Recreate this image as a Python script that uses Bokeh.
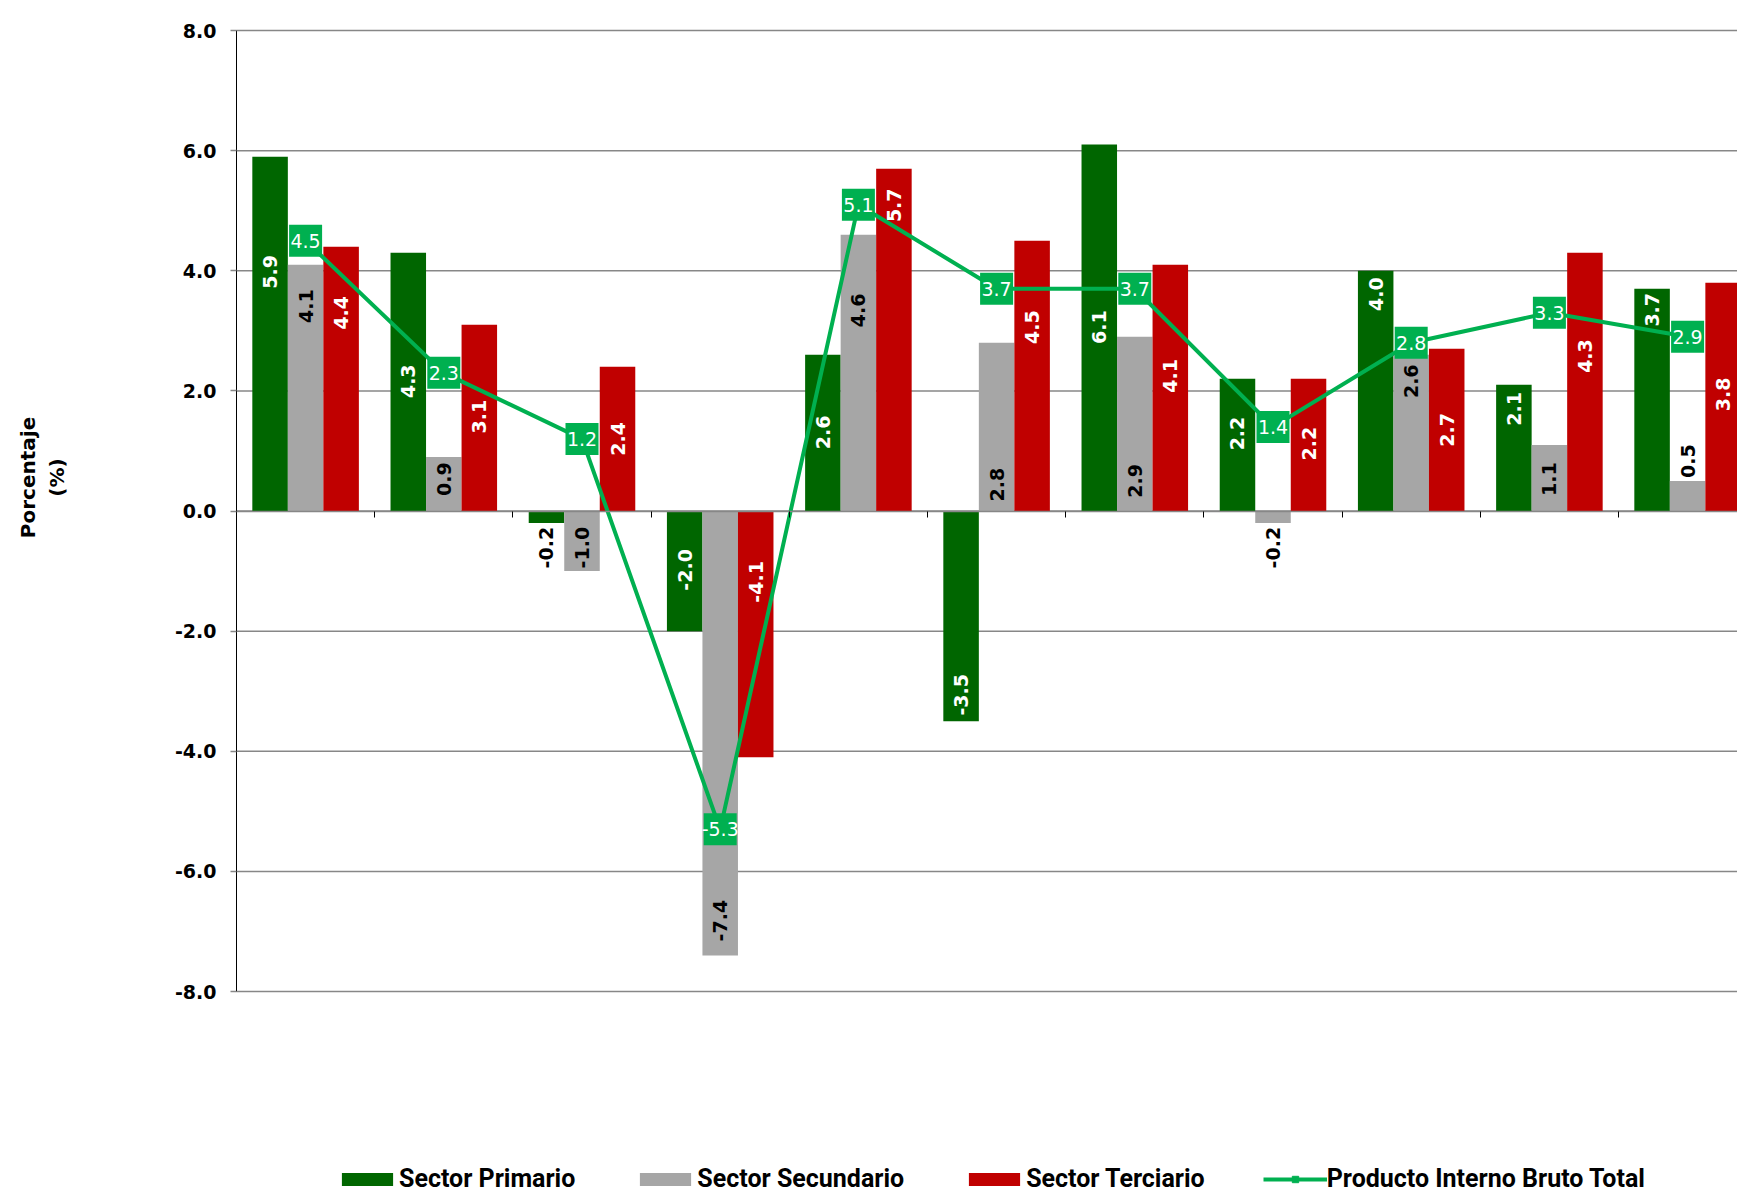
import numpy as np
from bokeh.plotting import figure
from bokeh.models import (Range1d, LinearAxis, FixedTicker, ColumnDataSource,
                          Legend, LegendItem, Label, NumeralTickFormatter)
from bokeh.core.properties import value
from bokeh.embed import file_html
from bokeh.resources import INLINE

# ---------------- data ----------------
grupos = list(range(11))
primario = [5.9, 4.3, -0.2, -2.0, 2.6, -3.5, 6.1, 2.2, 4.0, 2.1, 3.7]
secundario = [4.1, 0.9, -1.0, -7.4, 4.6, 2.8, 2.9, -0.2, 2.6, 1.1, 0.5]
terciario = [4.4, 3.1, 2.4, -4.1, 5.7, 4.5, 4.1, 2.2, 2.7, 4.3, 3.8]
pib = [4.5, 2.3, 1.2, -5.3, 5.1, 3.7, 3.7, 1.4, 2.8, 3.3, 2.9]
y_ticks = [-8, -6, -4, -2, 0, 2, 4, 6, 8]

# label anchor values (where each bar's label sits, in data units)
lbl_primario = [3.98, 2.16, -0.61, -0.98, 1.31, -3.06, 3.06, 1.29, 3.61, 1.70, 3.35]
lbl_secundario = [3.41, 0.53, -0.61, -6.82, 3.34, 0.44, 0.50, -0.61, 2.16, 0.53, 0.83]
lbl_terciario = [3.30, 1.57, 1.20, -1.18, 5.09, 3.06, 2.25, 1.12, 1.35, 2.58, 1.94]

nombres = ["Sector Primario", "Sector Secundario", "Sector Terciario",
           "Producto Interno Bruto Total"]
titulo_y = "Porcentaje\n(%)"

# ---------------- styles / layout ----------------
C_PRIM = "#006600"
C_SEC = "#A6A6A6"
C_TER = "#C00000"
C_PIB = "#00B050"
GRID = "#878787"
BAR_W = 0.257
DODGE = 0.257

W, H = 1737, 1193
AX_X = 236          # pixel of y axis
TOP_PX, BOT_PX = 30, 991   # pixels of +8 and -8
GROUP_PX = 138.2
ppu = (BOT_PX - TOP_PX) / (y_ticks[-1] - y_ticks[0])
x0 = -AX_X / GROUP_PX
x1 = (W - AX_X) / GROUP_PX
y1 = y_ticks[-1] + TOP_PX / ppu
y0 = y_ticks[0] - (H - BOT_PX) / ppu

centers = np.array(grupos) + 0.5

p = figure(width=W, height=H,
           x_range=Range1d(x0, x1), y_range=Range1d(y0, y1),
           output_backend="svg", toolbar_location=None,
           x_axis_location=None, y_axis_location=None,
           min_border=0)
p.outline_line_color = None
p.background_fill_color = "white"
p.border_fill_color = "white"
p.xgrid.visible = False
p.ygrid.visible = False

# horizontal grid lines (from the axis to the right edge)
p.segment(x0=0, x1=x1, y0=y_ticks, y1=y_ticks, line_color=GRID, line_width=1.5)

ya = LinearAxis(fixed_location=0, bounds=(y_ticks[0], y_ticks[-1]),
                ticker=FixedTicker(ticks=y_ticks),
                formatter=NumeralTickFormatter(format="0.0"))
ya.axis_line_color = "black"
ya.axis_line_width = 1
ya.major_tick_line_color = GRID
ya.major_tick_line_width = 1.5
ya.major_tick_out = 6
ya.major_tick_in = 0
ya.minor_tick_line_color = None
ya.major_label_standoff = 14
ya.major_label_text_font = "DejaVu Sans"
ya.major_label_text_font_style = "bold"
ya.major_label_text_font_size = "19px"
ya.major_label_text_color = "black"
p.add_layout(ya, "left")

xa = LinearAxis(fixed_location=0, bounds=(0, x1),
                ticker=FixedTicker(ticks=list(range(1, 11))),
                major_label_text_color=None,
                axis_line_color=GRID, axis_line_width=1.5,
                major_tick_out=6, major_tick_in=0,
                major_tick_line_color="black", major_tick_line_width=1,
                minor_tick_line_color=None)
p.add_layout(xa, "below")

# ---------------- bars ----------------
series = [(primario, lbl_primario, C_PRIM, -DODGE, "white"),
          (secundario, lbl_secundario, C_SEC, 0.0, "black"),
          (terciario, lbl_terciario, C_TER, DODGE, "white")]
bar_renderers = []
for vals, lbls, col, dx, tcol in series:
    r = p.vbar(x=centers + dx, top=vals, bottom=0, width=BAR_W,
               fill_color=col, line_color=None)
    bar_renderers.append(r)
for vals, lbls, col, dx, tcol in series:
    colors = []
    for v, l in zip(vals, lbls):
        inside = abs(l) < abs(v) and np.sign(l) == np.sign(v)
        colors.append(tcol if inside else "black")
    src = ColumnDataSource(dict(x=centers + dx, y=lbls,
                                t=[f"{v:.1f}" for v in vals], c=colors))
    p.text(x="x", y="y", text="t", source=src, angle=np.pi / 2,
           text_color="c", text_font=value("DejaVu Sans"), text_font_style="bold",
           text_font_size="19px", text_align="center", text_baseline="middle")

# ---------------- PIB line ----------------
line_r = p.line(x=centers, y=pib, line_color=C_PIB, line_width=4)
mark_r = p.scatter(x=centers, y=pib, marker="square", size=12,
                   fill_color=C_PIB, line_color=C_PIB)
p.rect(x=centers, y=pib, width=33, height=32, width_units="screen",
       height_units="screen", fill_color=C_PIB, line_color=None)
p.text(x=centers, y=pib, text=[f"{v:.1f}" for v in pib], text_color="white",
       text_font=value("DejaVu Sans"), text_font_size="19px",
       text_align="center", text_baseline="middle")

# ---------------- y title ----------------
p.add_layout(Label(x=(42 - AX_X) / GROUP_PX, y=y_ticks[-1] - (477 - TOP_PX) / ppu,
                   text=titulo_y, angle=np.pi / 2,
                   text_align="center", text_baseline="middle",
                   text_font="DejaVu Sans", text_font_style="bold",
                   text_font_size="20px", text_color="black"))

# ---------------- legend ----------------
items = [LegendItem(label=nombres[0], renderers=[bar_renderers[0]]),
         LegendItem(label=nombres[1], renderers=[bar_renderers[1]]),
         LegendItem(label=nombres[2], renderers=[bar_renderers[2]]),
         LegendItem(label=nombres[3], renderers=[line_r, mark_r])]
legend = Legend(items=items, orientation="horizontal", location=(335, 0),
                spacing=58, glyph_width=64, glyph_height=16, label_standoff=0,
                padding=0, margin=0, border_line_color=None,
                background_fill_alpha=0, label_height=22,
                label_text_font="Roboto", label_text_font_style="bold",
                label_text_font_size="25px", label_text_color="black",
                label_text_baseline="middle")
p.add_layout(legend)

open("out.html", "w").write(file_html(p, INLINE))
